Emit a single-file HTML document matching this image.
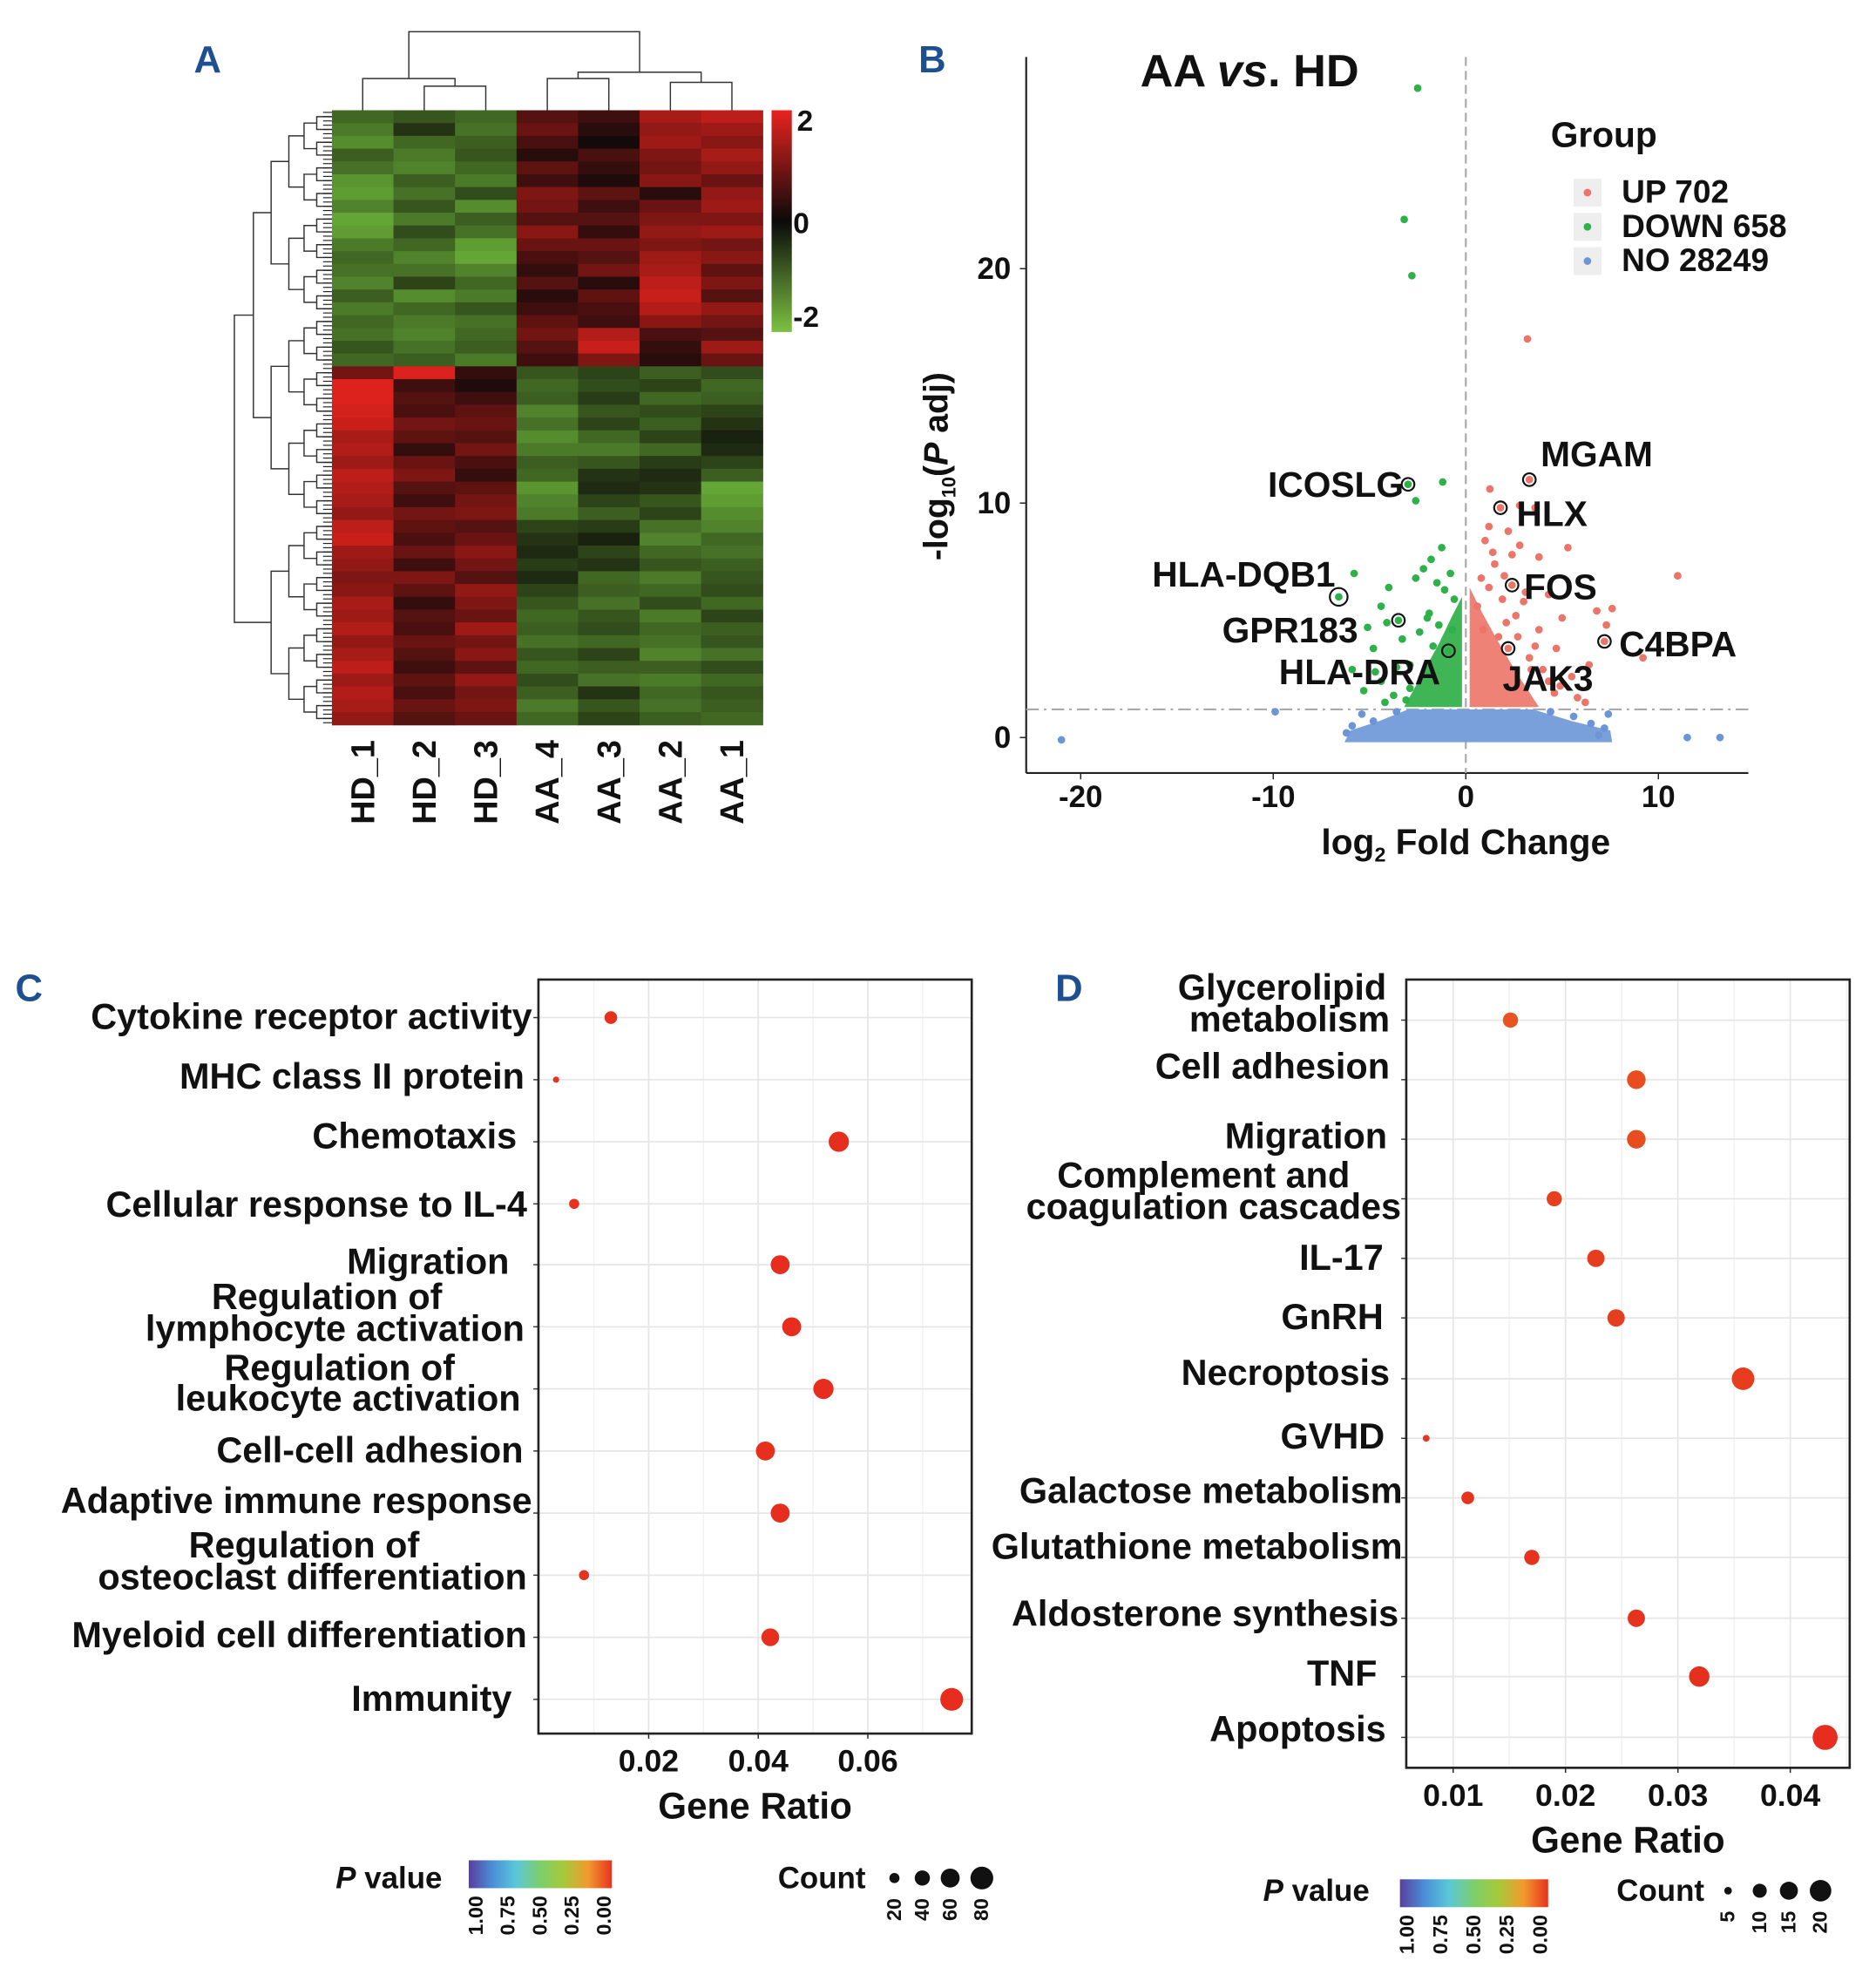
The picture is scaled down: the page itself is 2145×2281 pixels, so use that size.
<!DOCTYPE html>
<html><head><meta charset="utf-8"><style>
html,body{margin:0;padding:0;background:#fff}
svg{display:block}
text{font-family:"Liberation Sans",Arial,sans-serif;font-weight:bold;fill:#111}
</style></head><body>
<svg id="fig" width="2145" height="2281" viewBox="0 0 2145 2281" xmlns="http://www.w3.org/2000/svg">
<g id="root" transform="scale(1.454)">
 <text x="153" y="57" font-size="30" style="fill:#1d4f91">A</text>
 <text x="725" y="57" font-size="30" style="fill:#1d4f91">B</text>
 <text x="12" y="790" font-size="30" style="fill:#1d4f91">C</text>
 <text x="833" y="790" font-size="30" style="fill:#1d4f91">D</text>
 <g id="heat"></g>
 <g id="volc"></g>
 <g id="dotc"></g>
 <g id="dotd"></g>
</g>
</svg>
<script>
// ---------- Heatmap data ----------
const heatSamples=["HD_1","HD_2","HD_3","AA_4","AA_3","AA_2","AA_1"];
const heatRows=[
[-1.0,-0.8,-1.0,0.6,0.4,1.4,1.6],[-1.2,-0.4,-1.1,0.8,0.2,1.2,1.3],[-1.4,-1.0,-0.9,0.5,0.0,1.3,1.1],
[-0.9,-1.2,-0.8,0.2,0.5,1.0,1.4],[-1.1,-1.3,-1.0,0.7,0.3,0.9,1.2],[-1.5,-0.9,-1.2,0.4,0.1,1.1,0.8],
[-1.6,-1.1,-0.7,1.0,0.7,0.2,1.2],[-1.3,-0.8,-1.4,0.9,0.4,0.8,1.3],[-1.7,-1.2,-0.9,0.6,0.6,1.0,1.0],
[-1.6,-0.7,-1.1,1.1,0.3,1.2,1.3],[-1.2,-1.0,-1.6,0.8,0.8,1.0,0.9],[-1.0,-1.3,-1.7,0.5,0.6,1.3,1.1],
[-1.1,-1.1,-1.3,0.3,0.9,1.4,0.7],[-1.3,-0.6,-1.0,0.6,0.2,1.6,1.0],[-0.9,-1.4,-1.2,0.2,0.7,1.7,0.6],
[-1.2,-1.0,-0.8,0.4,0.5,1.5,1.2],[-1.0,-1.2,-1.1,0.7,0.4,1.1,0.9],[-1.1,-1.3,-1.0,0.9,1.5,0.5,0.6],
[-0.8,-1.1,-0.9,0.6,1.7,0.3,1.3],[-1.0,-0.9,-1.2,0.4,1.0,0.2,0.8],
[0.9,1.9,0.3,-0.8,-0.6,-0.9,-0.7],[1.9,0.4,0.1,-1.0,-0.7,-0.6,-1.0],[1.9,0.6,0.4,-0.9,-0.5,-1.0,-0.9],
[1.8,0.5,0.7,-1.3,-0.8,-0.7,-0.6],[1.7,0.9,0.8,-1.1,-0.6,-0.9,-0.4],[1.4,0.7,0.6,-1.4,-1.0,-0.6,-0.2],
[1.5,0.3,0.9,-1.2,-1.2,-1.0,-0.3],[1.3,0.8,0.5,-0.9,-0.8,-0.5,-0.6],[1.6,1.0,0.3,-1.0,-0.4,-0.3,-0.9],
[1.5,0.6,0.7,-1.5,-0.3,-0.4,-1.7],[1.4,0.4,0.9,-1.3,-0.6,-0.8,-1.6],[1.2,0.9,1.0,-1.2,-0.9,-0.6,-1.4],
[1.6,0.7,0.6,-0.6,-0.5,-1.1,-1.3],[1.7,0.5,0.8,-0.4,-0.2,-1.3,-1.0],[1.3,0.8,1.1,-0.3,-0.6,-1.0,-1.1],
[1.2,0.4,0.9,-0.5,-0.4,-0.8,-0.9],[1.0,1.0,0.6,-0.3,-1.0,-1.2,-0.8],[1.1,0.7,1.2,-0.6,-0.9,-1.0,-0.7],
[1.4,0.3,1.0,-0.8,-1.1,-0.7,-1.0],[1.3,0.6,0.8,-1.0,-0.8,-1.2,-0.6],[1.5,0.5,1.3,-0.9,-0.7,-1.0,-0.9],
[1.2,0.8,0.9,-1.1,-1.0,-1.1,-0.8],[1.4,0.6,1.1,-0.8,-0.6,-1.3,-1.1],[1.6,0.4,0.7,-1.0,-0.9,-0.9,-0.7],
[1.3,0.7,1.2,-0.7,-1.1,-1.2,-1.0],[1.5,0.5,0.9,-0.9,-0.4,-1.0,-0.8],[1.4,0.8,1.0,-1.2,-0.8,-1.1,-0.9],
[1.2,0.6,0.8,-1.0,-0.6,-0.9,-1.0]
];
// ---------- Volcano data ----------
const upX=[3.3,1.25,2.8,1.8,3.6,3.2,5.3,3.8,11,2.4,6.8,7.6,7.3,7.2,9.2,5.0,4.7,2.2,4.9,5.8,6.4,4.3,2.8,2.2,1.5,3.0,3.8,2.0,1.2,2.6,4.0,1.7,3.3,5.5,6.2,1.0,1.4,0.8,2.4,3.1,1.9,0.6,2.7,3.6,4.3,1.2,2.1,0.9,3.4,4.6];
const upY=[11.0,10.6,9.9,9.8,9.8,17.0,8.1,7.7,6.9,6.5,5.4,5.5,4.8,4.1,3.4,5.1,3.8,3.8,2.2,1.7,3.1,6.1,8.2,8.8,7.4,5.8,4.6,6.9,9.0,5.2,2.9,4.3,3.4,2.6,1.5,8.4,7.9,6.8,7.8,6.2,5.9,5.6,4.3,3.9,2.4,6.4,4.9,4.6,2.9,1.9];
const downX=[-2.5,-3.2,-2.8,-1.2,-2.6,-3.0,-1.25,-5.8,-1.8,-6.6,-4.4,-3.5,-4.0,-5.1,-4.8,-0.9,-4.7,-5.3,-3.75,-5.9,-2.2,-1.5,-3.3,-4.1,-2.9,-1.9,-2.6,-4.4,-0.8,-1.1,-0.6,-2.0,-2.4,-1.4,-3.6,-2.9,-1.7,-0.7,-3.1,-4.2];
const downY=[27.7,22.1,19.7,10.9,10.1,10.8,8.1,7.0,7.6,6.0,5.6,5.0,6.4,4.7,3.8,3.7,2.8,2.0,1.8,2.9,7.2,6.6,4.2,4.9,3.1,5.3,6.8,2.4,7.0,6.3,5.9,5.1,4.5,4.8,3.0,2.1,3.9,4.6,1.6,1.5];
const noX=[-21,-9.9,11.5,13.2,7.4,-5.4,7.2,-6.2,6.5,-4.8,5.6,-5.9,6.9,-3.6,4.4];
const noY=[-0.1,1.1,0,0,1.0,1.0,0.4,0.2,0.6,0.7,0.9,0.5,0.1,1.1,1.1];
const geneNames=["MGAM","HLX","FOS","C4BPA","JAK3","ICOSLG","HLA-DQB1","GPR183","HLA-DRA"];
const geneX=[3.3,1.8,2.4,7.2,2.2,-3.0,-6.6,-3.5,-0.9];
const geneY=[11.0,9.8,6.5,4.1,3.8,10.8,6.0,5.0,3.7];
const groupLabels=["UP 702","DOWN 658","NO 28249"];
const volXTicks=[-20,-10,0,10];
const volYTicks=[0,10,20];
// ---------- Dotplot C data ----------
const cTerms=["Cytokine receptor activity","MHC class II  protein","Chemotaxis","Cellular response to IL-4","Migration","Regulation of lymphocyte activation","Regulation of leukocyte activation","Cell-cell adhesion","Adaptive immune response","Regulation of osteoclast differentiation","Myeloid cell differentiation","Immunity"];
const cRatio=[0.0131,0.0031,0.0547,0.0064,0.0440,0.0461,0.0519,0.0413,0.0440,0.0082,0.0422,0.0753];
const cCount=[25,6,64,16,56,56,64,56,56,16,49,81];
const cPval=[0.01,0.02,0.0,0.02,0.0,0.0,0.0,0.01,0.0,0.02,0.01,0.0];
const cTicks=[0.02,0.04,0.06];
// ---------- Dotplot D data ----------
const dTerms=["Glycerolipid metabolism","Cell adhesion","Migration","Complement and coagulation cascades","IL-17","GnRH","Necroptosis","GVHD","Galactose metabolism","Glutathione metabolism","Aldosterone synthesis","TNF","Apoptosis"];
const dRatio=[0.0151,0.0263,0.0263,0.0190,0.0227,0.0245,0.0358,0.0076,0.0113,0.0170,0.0263,0.0319,0.0431];
const dCount=[10,15,15,10,13,13,22,2,7,10,13,18,27];
const dPval=[0.12,0.10,0.10,0.06,0.05,0.05,0.05,0.03,0.02,0.02,0.02,0.01,0.0];
const dTicks=[0.01,0.02,0.03,0.04];

const NS="http://www.w3.org/2000/svg";
function mk(parent,tag,attrs){const e=document.createElementNS(NS,tag);for(const k in attrs)e.setAttribute(k,attrs[k]);parent.appendChild(e);return e;}
function txt(parent,x,y,s,size,anchor){const t=mk(parent,"text",{x:x,y:y,"font-size":size,"text-anchor":anchor||"start"});t.textContent=s;return t;}
function heatColor(v){v=Math.max(-2,Math.min(2,v));
 if(v>=0){const f=v/2;return `rgb(${Math.round(20+f*212)},${Math.round(10+f*25)},${Math.round(10+f*20)})`;}
 const f=-v/2;return `rgb(${Math.round(15+f*100)},${Math.round(15+f*178)},${Math.round(10+f*50)})`;}
function pColor(p){const f=Math.min(1,p/0.25);return `rgb(${Math.round(230+f*4)},${Math.round(45+f*80)},${Math.round(30+f*5)})`;}

// ===== Heatmap =====
(function(){
 const g=document.getElementById("heat");
 const x0=262,x1=602,y0=87,y1=572;
 const cw=(x1-x0)/heatSamples.length, rh=(y1-y0)/heatRows.length;
 heatRows.forEach((row,i)=>{row.forEach((v,j)=>{
  const r=mk(g,"rect",{x:x0+j*cw,y:y0+i*rh,width:cw+0.4,height:rh+0.4,fill:heatColor(v)});
  
  
 });});
 const defs=mk(g,"defs",{});
 const lg=mk(defs,"linearGradient",{id:"hg",x1:0,y1:0,x2:0,y2:1});
 mk(lg,"stop",{offset:"0",  "stop-color":"#e8231f"});
 mk(lg,"stop",{offset:"0.5","stop-color":"#0a0a0a"});
 mk(lg,"stop",{offset:"1",  "stop-color":"#7dc142"});
 const cb=mk(g,"rect",{x:609,y:87,width:16,height:175,fill:"url(#hg)"});
 
 
 txt(g,629,103,"2",23);txt(g,626,184,"0",23);txt(g,626,258,"-2",23);
 heatSamples.forEach((s,j)=>{const cx=x0+(j+0.5)*cw;
  const t=mk(g,"text",{x:0,y:0,"font-size":26,"text-anchor":"end",transform:`translate(${cx+9},${584}) rotate(-90)`});t.textContent=s;
  
  });
 const dl=(pts)=>mk(g,"polyline",{points:pts,fill:"none",stroke:"#333","stroke-width":1});
 const cx=j=>x0+(j+0.5)*cw;
 dl(`${cx(1)},87 ${cx(1)},68 ${cx(2)},68 ${cx(2)},87`);
 const m12=(cx(1)+cx(2))/2;
 dl(`${cx(0)},87 ${cx(0)},62 ${m12},62 ${m12},68`);
 dl(`${cx(3)},87 ${cx(3)},62 ${cx(4)},62 ${cx(4)},87`);
 dl(`${cx(5)},87 ${cx(5)},65 ${cx(6)},65 ${cx(6)},87`);
 const m34=(cx(3)+cx(4))/2,m56=(cx(5)+cx(6))/2;
 dl(`${m34},62 ${m34},57 ${m56},57 ${m56},65`);
 const mh=(cx(0)+m12)/2,ma=(m34+m56)/2;
 dl(`${mh},62 ${mh},25 ${ma},25 ${ma},57`);
 let nodes=[];for(let i=0;i<heatRows.length;i++)nodes.push({y:y0+(i+0.5)*rh,x:262});
 let depth=[250,240,228,214,200,185];let lvl=0;
 while(nodes.length>1&&lvl<depth.length){const nn=[];
  for(let i=0;i<nodes.length;i+=2){if(i+1<nodes.length){const a=nodes[i],b=nodes[i+1],dx=depth[lvl];
    dl(`${a.x},${a.y} ${dx},${a.y} ${dx},${b.y} ${b.x},${b.y}`);nn.push({x:dx,y:(a.y+b.y)/2});}else nn.push(nodes[i]);}
  nodes=nn;lvl++;}
 for(let i=0;i<heatRows.length*3;i++){const yy=y0+(i+0.5)*rh/3;mk(g,"line",{x1:255,x2:262,y1:yy,y2:yy,stroke:"#222","stroke-width":0.8});}
})();

// ===== Volcano =====
(function(){
 const g=document.getElementById("volc");
 const X=v=>1157+v*15.2, Y=v=>582-v*18.5;
 mk(g,"line",{x1:810,y1:45,x2:810,y2:610,stroke:"#222","stroke-width":1.5});
 mk(g,"line",{x1:810,y1:610,x2:1380,y2:610,stroke:"#222","stroke-width":1.5});
 volXTicks.forEach(v=>{mk(g,"line",{x1:X(v),x2:X(v),y1:610,y2:615,stroke:"#222"});
  const t=txt(g,X(v),637,String(v),24,"middle");
  
  });
 volYTicks.forEach(v=>{mk(g,"line",{x1:805,x2:810,y1:Y(v),y2:Y(v),stroke:"#222"});
  const t=txt(g,798,Y(v)+8,String(v),24,"end");
  
  });
 mk(g,"line",{x1:X(0),x2:X(0),y1:45,y2:610,stroke:"#aaa","stroke-width":1.5,"stroke-dasharray":"7,4"});
 mk(g,"line",{x1:810,x2:1380,y1:Y(1.2),y2:Y(1.2),stroke:"#aaa","stroke-width":1.5,"stroke-dasharray":"10,4,2,4"});
 const poly=(pts,col,name)=>{const p=mk(g,"polygon",{points:pts.map(q=>X(q[0])+","+Y(q[1])).join(" "),fill:col});
  };
 poly([[-6.3,-0.2],[-6,0.3],[-4.5,0.7],[-3,1.2],[3.5,1.2],[5.5,0.7],[7.5,0.3],[7.6,-0.2]],"#7aa0dc","no-change-points");
 poly([[-0.2,1.3],[-0.2,6.0],[-0.7,5.2],[-1.4,4.0],[-2.2,2.8],[-3.2,1.3]],"#3fb556","down-dense-points");
 poly([[0.2,1.3],[0.2,6.4],[0.8,5.4],[1.6,4.2],[2.6,2.8],[3.8,1.3]],"#ee8276","up-dense-points");
 const pts=(xs,ys,col,name)=>xs.forEach((x,i)=>{const c=mk(g,"circle",{cx:X(x),cy:Y(ys[i]),r:3,fill:col});
  });
 pts(noX,noY,"#6b95d6","no-change-point");
 pts(downX,downY,"#2fb14a","down-point");
 pts(upX,upY,"#ec7468","up-point");
 geneX.forEach((x,i)=>{const c=mk(g,"circle",{cx:X(x),cy:Y(geneY[i]),r:i==6?7:5,fill:"none",stroke:"#111","stroke-width":1.5});
  });
 const lab=[[1216,368,"start"],[1197,415,"start"],[1203,473,"start"],[1278,518,"start"],[1186,545,"start"],[1108,392,"end"],[1054,463,"end"],[1072,507,"end"],[1137,540,"end"]];
 geneNames.forEach((n,i)=>{const t=txt(g,lab[i][0],lab[i][1],n,28,lab[i][2]);
  });
 const ti=mk(g,"text",{x:900,y:68,"font-size":36});
 ti.innerHTML='AA <tspan font-style="italic">vs</tspan>. HD';
 
 txt(g,1224,116,"Group",28);
 const cols=["#ec7468","#2fb14a","#6b95d6"];
 groupLabels.forEach((s,i)=>{const yy=152+i*27;
  mk(g,"rect",{x:1242,y:yy-11,width:22,height:22,fill:"#eeeeee"});
  mk(g,"circle",{cx:1253,cy:yy,r:3,fill:cols[i]});
  const t=txt(g,1280,yy+8,s,25.5);});
 const xl=mk(g,"text",{x:1157,y:674,"font-size":28,"text-anchor":"middle"});
 xl.innerHTML='log<tspan font-size="16" dy="6">2</tspan><tspan dy="-6"> Fold Change</tspan>';
 
 const yl=mk(g,"text",{x:0,y:0,"font-size":27,"text-anchor":"middle",transform:"translate(748,368) rotate(-90)"});
 yl.innerHTML='-log<tspan font-size="15" dy="6">10</tspan><tspan dy="-6">(</tspan><tspan font-style="italic">P</tspan> adj)';
 
})();

// ===== Dotplots =====
function dotplot(gid,box,ticks,x01,terms,ratios,counts,pvals,rowY,labels,rk,leg,cntLabels,cntVals){
 const g=document.getElementById(gid);
 const [bx0,by0,bx1,by1]=box;
 const X=v=>x01[0]+(v-x01[1])*x01[2];
 mk(g,"rect",{x:bx0,y:by0,width:bx1-bx0,height:by1-by0,fill:"#fff"});
 const step=X(ticks[1])-X(ticks[0]);
 ticks.forEach(v=>{mk(g,"line",{x1:X(v),x2:X(v),y1:by0,y2:by1,stroke:"#e6e6e6","stroke-width":1.2});
  const h=X(v)+step/2; if(h<bx1)mk(g,"line",{x1:h,x2:h,y1:by0,y2:by1,stroke:"#f2f2f2"});});
 const h0=X(ticks[0])-step/2; if(h0>bx0)mk(g,"line",{x1:h0,x2:h0,y1:by0,y2:by1,stroke:"#f2f2f2"});
 rowY.forEach(y=>{mk(g,"line",{x1:bx0,x2:bx1,y1:y,y2:y,stroke:"#e6e6e6","stroke-width":1.2});
  mk(g,"line",{x1:bx0-4,x2:bx0,y1:y,y2:y,stroke:"#333"});});
 mk(g,"rect",{x:bx0,y:by0,width:bx1-bx0,height:by1-by0,fill:"none",stroke:"#222","stroke-width":1.8});
 ratios.forEach((r,i)=>{const c=mk(g,"circle",{cx:X(r),cy:rowY[i],r:rk*Math.sqrt(counts[i]),fill:pColor(pvals[i])});
  });
 ticks.forEach(v=>{mk(g,"line",{x1:X(v),x2:X(v),y1:by1,y2:by1+4,stroke:"#222"});
  const t=txt(g,X(v),by1+30,String(v),24.5,"middle");});
 labels.forEach(l=>{const t=txt(g,l[0],l[1],l[2],28.5,l[3]);});
 const xt=txt(g,(bx0+bx1)/2,by1+67,"Gene Ratio",29,"middle");
 const [px,py,cbx,cby,cbw,cx,cdots]=leg;
 const pt=mk(g,"text",{x:px,y:py,"font-size":24});pt.innerHTML='<tspan font-style="italic">P</tspan> value';
 const id=gid+"grad";const defs=mk(g,"defs",{});const lg=mk(defs,"linearGradient",{id:id,x1:0,y1:0,x2:1,y2:0});
 ["#5a3f9e","#4a8fd8","#5bc8d8","#7ccf6a","#a8c83a","#f29a2e","#e8321e"].forEach((c,i)=>mk(lg,"stop",{offset:i/6,"stop-color":c}));
 const cbar=mk(g,"rect",{x:cbx,y:cby,width:cbw,height:22,fill:`url(#${id})`});
 
 ["1.00","0.75","0.50","0.25","0.00"].forEach((s,i)=>{const xx=cbx+6+i*(cbw-12)/4;
  mk(g,"text",{x:0,y:0,"font-size":16,"text-anchor":"end",transform:`translate(${xx+5},${cby+28}) rotate(-90)`}).textContent=s;});
 txt(g,cx,py,"Count",24);
 cntVals.forEach((c,i)=>{const d=mk(g,"circle",{cx:cdots[i],cy:py-8,r:rk*Math.sqrt(c),fill:"#111"});
  
  mk(g,"text",{x:0,y:0,"font-size":16,"text-anchor":"end",transform:`translate(${cdots[i]+5},${py+8}) rotate(-90)`}).textContent=cntLabels[i];});
}
const cRowY=[803,852,901,950,998,1047,1096,1145,1194,1243,1292,1341];
dotplot("dotc",[425,773,767,1368],cTicks,[512,0.02,4325],cTerms,cRatio,cCount,cPval,cRowY,[
 [420,812,"Cytokine receptor activity","end"],[414,859,"MHC class II  protein","end"],[408,906,"Chemotaxis","end"],
 [416,960,"Cellular response to IL-4","end"],[402,1005,"Migration","end"],[258,1033,"Regulation of","middle"],
 [414,1058,"lymphocyte activation","end"],[268,1089,"Regulation of","middle"],[411,1113,"leukocyte activation","end"],
 [413,1154,"Cell-cell adhesion","end"],[420,1194,"Adaptive immune response","end"],[240,1229,"Regulation of","middle"],
 [416,1254,"osteoclast differentiation","end"],[416,1300,"Myeloid cell differentiation","end"],[404,1350,"Immunity","end"]],
 1.0,[265,1490,370,1468,113,614,[706,728,750,775]],["20","40","60","80"],[16,36,56,81]);
const dRowY=[805,852,899,946,993,1040,1088,1135,1182,1229,1277,1323,1371];
dotplot("dotd",[1110,773,1460,1395],dTicks,[1147,0.01,8870],dTerms,dRatio,dCount,dPval,dRowY,[
 [1012,789,"Glycerolipid","middle"],[1097,814,"metabolism","end"],[1097,851,"Cell adhesion","end"],
 [1095,906,"Migration","end"],[950,937,"Complement and","middle"],[1106,962,"coagulation cascades","end"],
 [1092,1002,"IL-17","end"],[1092,1049,"GnRH","end"],[1097,1093,"Necroptosis","end"],[1093,1143,"GVHD","end"],
 [1107,1186,"Galactose metabolism","end"],[1107,1230,"Glutathione metabolism","end"],[1104,1283,"Aldosterone synthesis","end"],
 [1087,1330,"TNF","end"],[1094,1374,"Apoptosis","end"]],
 1.9,[997,1500,1105,1483,117,1276,[1364,1389,1412,1437]],["5","10","15","20"],[2.5,8.5,14,20]);
</script>
</body></html>
